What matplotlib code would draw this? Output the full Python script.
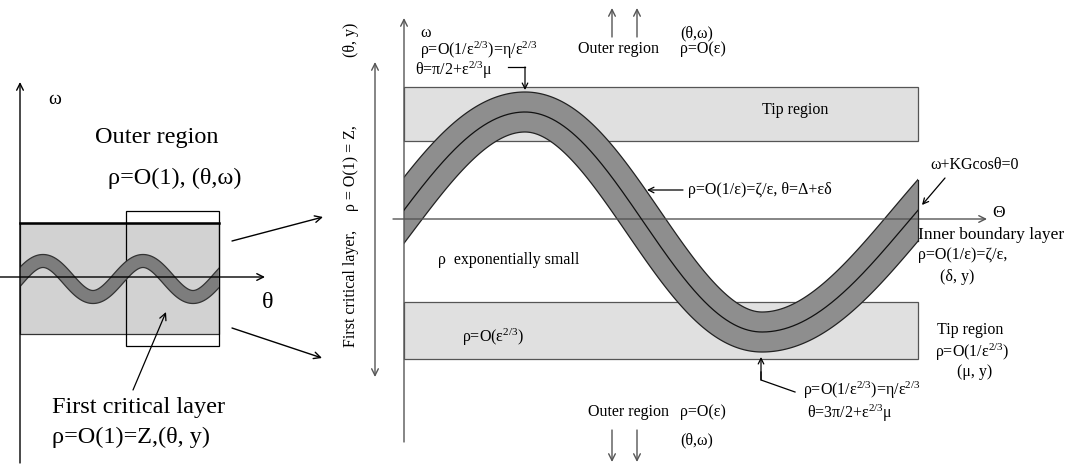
import numpy as np
import matplotlib
matplotlib.use("Agg")
import matplotlib.pyplot as plt
from matplotlib.patches import Rectangle, Polygon

plt.rcParams['font.family'] = ['Liberation Serif', 'DejaVu Serif']
plt.rcParams['mathtext.fontset'] = 'custom'
plt.rcParams['mathtext.rm'] = 'Liberation Serif'
plt.rcParams['mathtext.it'] = 'Liberation Serif:italic'

# ---------------- data / labels ----------------
# left panel wave: x of the two crests and amplitude
left_wave_peak_x = [43, 143]
left_wave_amp = 18
left_labels = ["ω", "Outer region", "ρ=O(1), (θ,ω)", "θ",
               "First critical layer", "ρ=O(1)=Z,(θ, y)"]

# right panel curve: omega + KG cos(theta) = 0 -> shape sin(theta)
right_theta_keys = [0.0, np.pi / 2, 3 * np.pi / 2, 2 * np.pi]
right_x_keys = [395, 525, 762, 908]
right_amp = 110
right_theta_range = [-0.3, 2 * np.pi + 0.5]

right_labels = {
    "omega": "ω",
    "tip_top_rho": r"ρ=O(1/ε$^{2/3}$)=η/ε$^{2/3}$",
    "tip_top_theta": r"θ=π/2+ε$^{2/3}$μ",
    "outer_top": "Outer region",
    "outer_top_rho": "ρ=O(ε)",
    "outer_top_vars": "(θ,ω)",
    "tip_region": "Tip region",
    "mid": "ρ=O(1/ε)=ζ/ε, θ=Δ+εδ",
    "kg": "ω+KGcosθ=0",
    "Theta": "Θ",
    "inner1": "Inner boundary layer",
    "inner2": "ρ=O(1/ε)=ζ/ε,",
    "inner3": "(δ, y)",
    "expsmall": "ρ  exponentially small",
    "eps23": r"ρ=O(ε$^{2/3}$)",
    "tip2_1": "Tip region",
    "tip2_2": r"ρ=O(1/ε$^{2/3}$)",
    "tip2_3": "(μ, y)",
    "bot_rho": r"ρ=O(1/ε$^{2/3}$)=η/ε$^{2/3}$",
    "bot_theta": r"θ=3π/2+ε$^{2/3}$μ",
    "outer_bot": "Outer region",
    "outer_bot_rho": "ρ=O(ε)",
    "outer_bot_vars": "(θ,ω)",
    "vert1": "First critical layer,",
    "vert2": "ρ = O(1) = Z,",
    "vert3": "(θ, y)",
}

# ---------------- figure ----------------
fig = plt.figure(figsize=(10.7, 4.66), dpi=100)
ax = fig.add_axes([0, 0, 1, 1])
ax.set_xlim(0, 1070)
ax.set_ylim(466, 0)
ax.axis('off')


def arrow(p0, p1, color='black', lw=1.0, style='->', ms=12, z=5):
    ax.annotate('', xy=p1, xytext=p0,
                arrowprops=dict(arrowstyle=style, color=color, lw=lw,
                                shrinkA=0, shrinkB=0, mutation_scale=ms),
                zorder=z)


def band(xc, yc, hw):
    dx = np.gradient(xc)
    dy = np.gradient(yc)
    n = np.hypot(dx, dy)
    nx, ny = -dy / n, dx / n
    a = (xc + hw * nx, yc + hw * ny)
    b = (xc - hw * nx, yc - hw * ny)
    return a, b


def add_clipped(artist, x0, x1):
    artist.set_clip_path(Rectangle((x0, 0), x1 - x0, 466, transform=ax.transData))


# ================= LEFT PANEL =================
LFS = 17.5
ax.add_patch(Rectangle((20, 223), 199, 111, facecolor='#d2d2d2',
                       edgecolor='#333333', lw=0.9, zorder=1))
ax.plot([20, 219], [223, 223], color='black', lw=1.8, zorder=3)
ax.add_patch(Rectangle((126, 211), 93, 135, facecolor='none',
                       edgecolor='black', lw=0.9, zorder=3))
arrow((20, 463), (20, 82), lw=1.0)
arrow((0, 277), (265, 277), lw=1.0)

period = left_wave_peak_x[1] - left_wave_peak_x[0]
th = np.linspace(-0.5, 2.7, 700) * 2 * np.pi
xw = left_wave_peak_x[0] - period / 4 + th / (2 * np.pi) * period
yw = 279 - left_wave_amp * np.sin(th)
a, b = band(xw, yw, 6.5)
poly = Polygon(np.column_stack([np.r_[a[0], b[0][::-1]], np.r_[a[1], b[1][::-1]]]),
               closed=True, facecolor='#7d7d7d', edgecolor='#333333', lw=0.9, zorder=4)
ax.add_patch(poly)
add_clipped(poly, 20, 219)

ax.text(55, 100, left_labels[0], fontsize=14, ha='center', va='center')
ax.text(157, 137, left_labels[1], fontsize=LFS, ha='center', va='center')
ax.text(175, 178, left_labels[2], fontsize=LFS, ha='center', va='center')
ax.text(268, 302, left_labels[3], fontsize=LFS, ha='center', va='center')
arrow((133, 390), (166, 312), lw=0.9)
ax.text(52, 408, left_labels[4], fontsize=LFS, ha='left', va='center')
ax.text(52, 437, left_labels[5], fontsize=LFS, ha='left', va='center')

arrow((232, 241), (323, 217), lw=1.0)
arrow((232, 328), (322, 358), lw=1.0)

# ================= RIGHT PANEL =================
RFS = 11.5
GC = '#555555'
X0, X1 = 404, 918
ax.add_patch(Rectangle((X0, 87), X1 - X0, 54, facecolor='#e0e0e0',
                       edgecolor=GC, lw=0.9, zorder=1))
ax.add_patch(Rectangle((X0, 302), X1 - X0, 57, facecolor='#e0e0e0',
                       edgecolor=GC, lw=0.9, zorder=1))
arrow((X0, 442), (X0, 18), color=GC, lw=1.0)
arrow((393, 219), (987, 219), color=GC, lw=1.0)
arrow((375, 62), (375, 377), color=GC, lw=1.0, style='<->')

th = np.linspace(right_theta_range[0], right_theta_range[1], 1200)
k = right_theta_keys
xk = right_x_keys
xr = np.where(th < k[1],
              xk[1] + (th - k[1]) * (xk[1] - xk[0]) / (k[1] - k[0]),
              np.where(th <= k[2],
                       xk[1] + (th - k[1]) * (xk[2] - xk[1]) / (k[2] - k[1]),
                       xk[2] + (th - k[2]) * (xk[3] - xk[2]) / (k[3] - k[2])))
yr = 222 - right_amp * np.sin(th)
a, b = band(xr, yr, 20)
poly = Polygon(np.column_stack([np.r_[a[0], b[0][::-1]], np.r_[a[1], b[1][::-1]]]),
               closed=True, facecolor='#8e8e8e', edgecolor='#222222', lw=0.9, zorder=4)
ax.add_patch(poly)
add_clipped(poly, X0, X1)
cl, = ax.plot(xr, yr, color='#111111', lw=0.9, zorder=5)
add_clipped(cl, X0, X1)
ma = a[0] > 800
mb = b[0] > 800
ya = np.interp(X1, a[0][ma], a[1][ma])
yb = np.interp(X1, b[0][mb], b[1][mb])
ax.plot([X1, X1], [ya, yb], color='#222222', lw=0.9, zorder=5)

L = right_labels
ax.text(420, 33, L["omega"], fontsize=RFS, ha='left', va='center')
ax.text(420, 50, L["tip_top_rho"], fontsize=RFS, ha='left', va='center')
ax.text(415, 70, L["tip_top_theta"], fontsize=RFS, ha='left', va='center')
ax.plot([508, 525], [67, 67], color='black', lw=0.9, zorder=6)
arrow((525, 67), (525, 90), lw=0.9, ms=10, z=6)

arrow((612, 37), (612, 8), color=GC, lw=1.0)
arrow((637, 37), (637, 8), color=GC, lw=1.0)
ax.text(578, 49, L["outer_top"], fontsize=RFS, ha='left', va='center')
ax.text(680, 49, L["outer_top_rho"], fontsize=RFS, ha='left', va='center')
ax.text(680, 33, L["outer_top_vars"], fontsize=RFS, ha='left', va='center')

ax.text(762, 110, L["tip_region"], fontsize=RFS, ha='left', va='center')
arrow((683, 190), (647, 190), lw=0.9, ms=10)
ax.text(688, 190, L["mid"], fontsize=RFS, ha='left', va='center')
ax.text(930, 165, L["kg"], fontsize=RFS, ha='left', va='center')
arrow((945, 178), (922, 205), lw=0.9, ms=10)
ax.text(992, 213, L["Theta"], fontsize=RFS + 1, ha='left', va='center')
ax.text(918, 235, L["inner1"], fontsize=12.5, ha='left', va='center')
ax.text(918, 255, L["inner2"], fontsize=RFS, ha='left', va='center')
ax.text(940, 277, L["inner3"], fontsize=RFS, ha='left', va='center')

ax.text(438, 260, L["expsmall"], fontsize=RFS, ha='left', va='center')
ax.text(462, 337, L["eps23"], fontsize=RFS, ha='left', va='center')

ax.text(937, 330, L["tip2_1"], fontsize=RFS, ha='left', va='center')
ax.text(935, 352, L["tip2_2"], fontsize=RFS, ha='left', va='center')
ax.text(957, 372, L["tip2_3"], fontsize=RFS, ha='left', va='center')

ax.plot([795, 761, 761], [392, 380, 372], color='black', lw=0.9, zorder=6)
arrow((761, 380), (761, 357), lw=0.9, ms=10, z=6)
ax.text(803, 390, L["bot_rho"], fontsize=RFS, ha='left', va='center')
ax.text(807, 413, L["bot_theta"], fontsize=RFS, ha='left', va='center')

ax.text(588, 412, L["outer_bot"], fontsize=RFS, ha='left', va='center')
ax.text(680, 412, L["outer_bot_rho"], fontsize=RFS, ha='left', va='center')
ax.text(680, 440, L["outer_bot_vars"], fontsize=RFS, ha='left', va='center')
arrow((612, 430), (612, 462), color=GC, lw=1.0)
arrow((637, 430), (637, 462), color=GC, lw=1.0)

ax.text(351, 288, L["vert1"], fontsize=RFS, rotation=90, ha='center', va='center')
ax.text(351, 168, L["vert2"], fontsize=RFS, rotation=90, ha='center', va='center')
ax.text(351, 40, L["vert3"], fontsize=RFS, rotation=90, ha='center', va='center')

fig.savefig("out.png", dpi=100)
